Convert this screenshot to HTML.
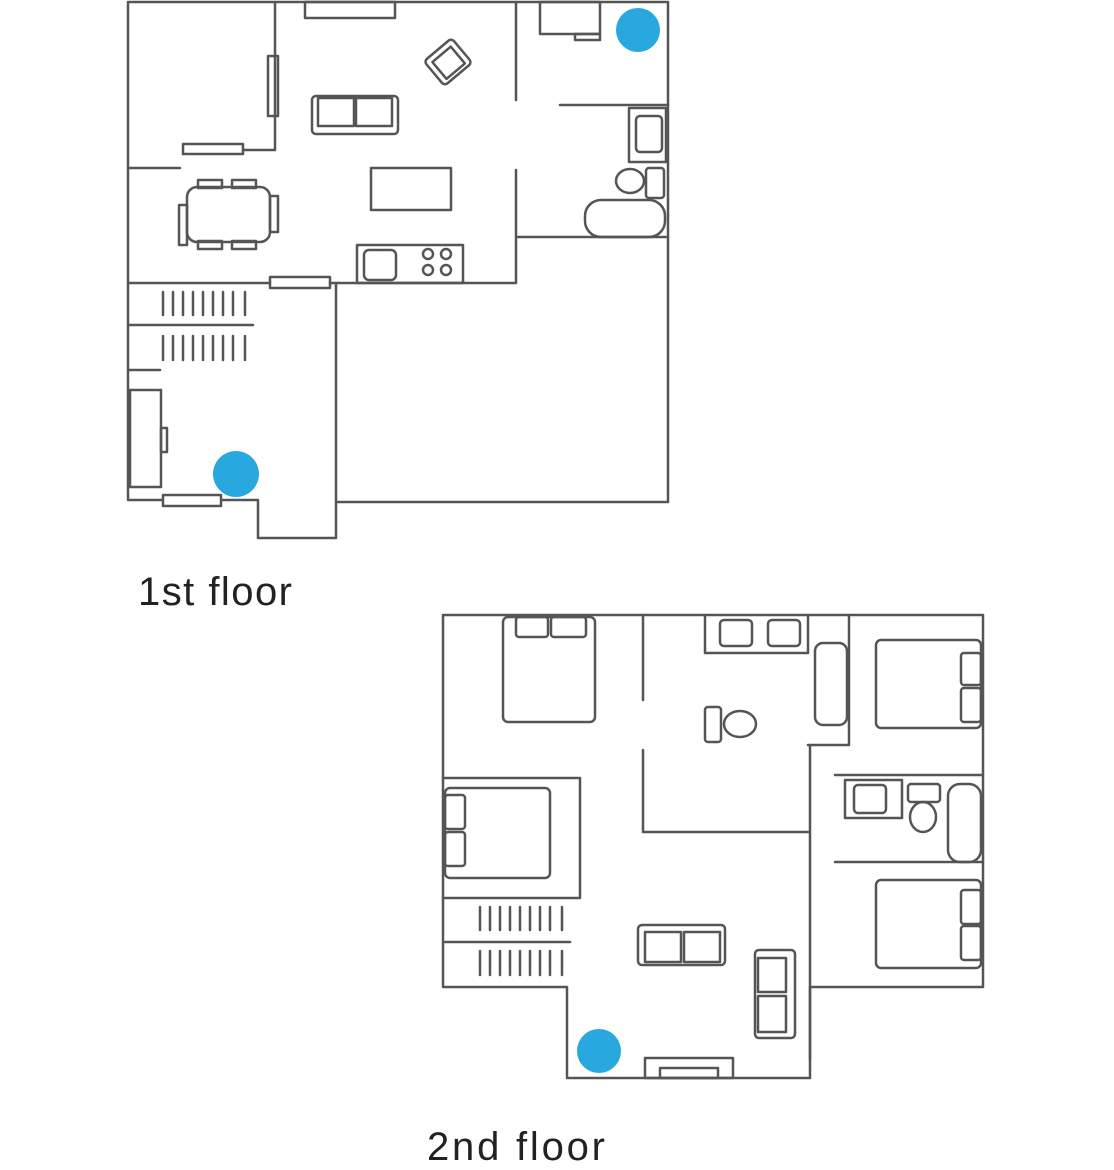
<!DOCTYPE html>
<html><head><meta charset="utf-8"><style>
html,body{margin:0;padding:0;background:#fff;}
svg{display:block}
text{font-family:"Liberation Sans",sans-serif;fill:#222}
</style></head><body>
<svg width="1114" height="1170" viewBox="0 0 1114 1170" xmlns="http://www.w3.org/2000/svg">
<g fill="none" stroke="#555" stroke-width="2.5" stroke-linecap="round" stroke-linejoin="round">
<path d="M128 2 H668 V502 H338 M128 2 V500 H162 M222 500 H258 V538 H336 V283"/>
<path d="M275 2 V150 H243 M128 168 H180 M516 2 V100 M516 170 V283 H330 M270 283 H128 M516 237 H668 M560 105 H668 M128 370 H160"/>
<rect x="183" y="144" width="60" height="10"/>
<rect x="270" y="277" width="60" height="11"/>
<rect x="163" y="495" width="58" height="11"/>
<rect x="268" y="56" width="10" height="60"/>
<rect x="305" y="2" width="90" height="16"/>
<rect x="540" y="2" width="60" height="32"/>
<rect x="575" y="34" width="25" height="6"/>
<g transform="rotate(-40 448 62)"><rect x="430" y="46" width="36" height="32" rx="4"/><rect x="436" y="52" width="24" height="22"/></g>
<rect x="312" y="96" width="86" height="38" rx="4"/><rect x="318" y="98" width="36" height="28"/><rect x="356" y="98" width="36" height="28"/>
<rect x="371" y="168" width="80" height="42"/>
<rect x="187" y="187" width="83" height="55" rx="10"/>
<rect x="198" y="180" width="24" height="8"/><rect x="232" y="180" width="24" height="8"/>
<rect x="198" y="241" width="24" height="8"/><rect x="232" y="241" width="24" height="8"/>
<rect x="179" y="205" width="8" height="40"/><rect x="270" y="196" width="8" height="36"/>
<rect x="357" y="245" width="106" height="38"/>
<rect x="364" y="250" width="32" height="30" rx="5"/>
<circle cx="428" cy="254" r="5"/><circle cx="446" cy="254" r="5"/><circle cx="428" cy="270" r="5"/><circle cx="446" cy="270" r="5"/>
<rect x="629" y="108" width="37" height="54"/><rect x="636" y="116" width="26" height="36" rx="4"/>
<ellipse cx="630" cy="181" rx="14" ry="12"/><rect x="646" y="168" width="18" height="30" rx="3"/>
<rect x="585" y="200" width="80" height="37" rx="16"/>
<path d="M128 325 H253 M163 292 V315 M173 292 V315 M183 292 V315 M193 292 V315 M203 292 V315 M213 292 V315 M223 292 V315 M233 292 V315 M245 292 V315 M163 336 V360 M173 336 V360 M183 336 V360 M193 336 V360 M203 336 V360 M213 336 V360 M223 336 V360 M233 336 V360 M245 336 V360"/>
<rect x="130" y="390" width="31" height="97"/><rect x="161" y="428" width="6" height="24"/>

<path d="M443 615 H983 V987 H810 V1078 H567 V987 H443 Z"/>
<path d="M643 615 V700 M643 750 V832 H810 V745 M705 615 V653 H808 V615 M849 615 V745 H808 M443 778 H580 V898 H443 M810 832 V1060 M835 775 H983 M835 862 H983"/>
<rect x="503" y="617" width="92" height="105" rx="5"/><rect x="516" y="617" width="32" height="20" rx="3"/><rect x="551" y="617" width="35" height="20" rx="3"/>
<rect x="876" y="640" width="105" height="88" rx="5"/><rect x="961" y="653" width="20" height="32" rx="3"/><rect x="961" y="688" width="20" height="34" rx="3"/>
<rect x="876" y="880" width="105" height="88" rx="5"/><rect x="961" y="890" width="20" height="34" rx="3"/><rect x="961" y="926" width="20" height="34" rx="3"/>
<rect x="445" y="788" width="105" height="90" rx="5"/><rect x="445" y="795" width="20" height="34" rx="3"/><rect x="445" y="832" width="20" height="34" rx="3"/>
<rect x="720" y="620" width="32" height="26" rx="4"/><rect x="768" y="620" width="32" height="26" rx="4"/>
<rect x="815" y="643" width="32" height="82" rx="8"/>
<rect x="705" y="707" width="16" height="35" rx="3"/><ellipse cx="740" cy="724" rx="16" ry="13"/>
<rect x="845" y="780" width="57" height="38"/><rect x="854" y="785" width="32" height="28" rx="4"/>
<rect x="908" y="784" width="32" height="18" rx="3"/><ellipse cx="923" cy="817" rx="13" ry="15"/>
<rect x="948" y="784" width="33" height="78" rx="12"/>
<path d="M445 942 H570 M480 907 V930 M490 907 V930 M500 907 V930 M510 907 V930 M520 907 V930 M530 907 V930 M540 907 V930 M550 907 V930 M562 907 V930 M480 951 V975 M490 951 V975 M500 951 V975 M510 951 V975 M520 951 V975 M530 951 V975 M540 951 V975 M550 951 V975 M562 951 V975"/>
<rect x="638" y="925" width="87" height="40" rx="4"/><rect x="645" y="932" width="36" height="30"/><rect x="684" y="932" width="36" height="30"/>
<rect x="755" y="950" width="40" height="88" rx="4"/><rect x="758" y="958" width="28" height="34"/><rect x="758" y="996" width="28" height="36"/>
<rect x="645" y="1058" width="88" height="20"/><rect x="660" y="1068" width="58" height="10"/>
</g>
<circle cx="638" cy="30" r="22" fill="#29a8df"/>
<circle cx="236" cy="474" r="23" fill="#29a8df"/>
<circle cx="599" cy="1051" r="22" fill="#29a8df"/>
<text x="138" y="605" font-size="40" textLength="154" lengthAdjust="spacing">1st floor</text>
<text x="427" y="1160" font-size="40" textLength="178" lengthAdjust="spacing">2nd floor</text>
</svg>
</body></html>
